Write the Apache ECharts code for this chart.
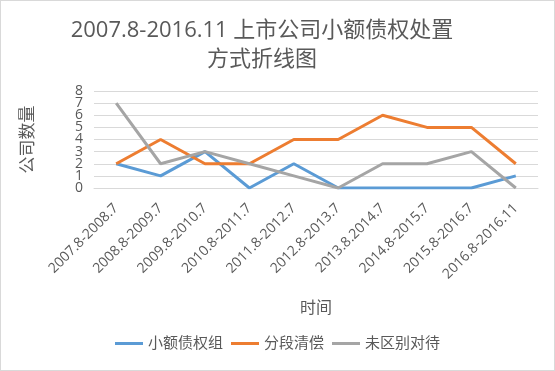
<!DOCTYPE html>
<html>
<head>
<meta charset="utf-8">
<script src="https://cdn.jsdelivr.net/npm/echarts@6/dist/echarts.min.js"></script>
<style>
html,body{margin:0;padding:0;background:#fff;}
#c{width:555px;height:371px;box-sizing:border-box;border:1px solid #d9d9d9;}
</style>
</head>
<body>
<div id="c"></div>
<script>
const categories = ['2007.8-2008.7','2008.8-2009.7','2009.8-2010.7','2010.8-2011.7','2011.8-2012.7','2012.8-2013.7','2013.8.2014.7','2014.8-2015.7','2015.8-2016.7','2016.8-2016.11'];
const seriesNames = ['小额债权组','分段清偿','未区别对待'];
const smallClaims = [2,1,3,0,2,0,0,0,0,1];
const staged = [2,4,2,2,4,4,6,5,5,2];
const undiff = [7,2,3,2,1,0,2,2,3,0];
const yTicks = [0,1,2,3,4,5,6,7,8];

const font = '"Open Sans","Noto Sans CJK SC",sans-serif';
const chart = echarts.init(document.getElementById('c'), null, {renderer:'canvas'});
chart.setOption({
  animation:false,
  color:['#5B9BD5','#ED7D31','#A5A5A5'],
  title:{
    text:'2007.8-2016.11 上市公司小额债权处置\n方式折线图',
    left:256, textAlign:'center', top:10,
    textStyle:{fontFamily:font,fontSize:22,fontWeight:'normal',color:'#595959',lineHeight:29}
  },
  legend:{
    bottom:14, left:'center',
    icon:'rect', itemWidth:28, itemHeight:3, itemGap:8,
    textStyle:{fontFamily:font,fontSize:15,color:'#595959'},
    data:seriesNames
  },
  grid:{left:93,right:16,top:90,bottom:182,containLabel:false,outerBoundsMode:'none'},
  xAxis:{
    type:'category', data:categories, boundaryGap:true,
    axisLine:{lineStyle:{color:'#D9D9D9',width:1}},
    axisTick:{show:false},
    axisLabel:{rotate:45,fontFamily:font,fontSize:14,color:'#595959',margin:18,interval:0,hideOverlap:false},
    name:'时间', nameLocation:'middle', nameGap:112,
    nameTextStyle:{fontFamily:font,fontSize:16,color:'#595959'}
  },
  yAxis:[{
    type:'value', min:yTicks[0], max:yTicks[yTicks.length-1], interval:1,
    axisLine:{show:false}, axisTick:{show:false},
    splitLine:{lineStyle:{color:'#D9D9D9',width:1}},
    axisLabel:{show:false},
    name:'公司数量', nameLocation:'middle', nameRotate:90, nameGap:57,
    nameTextStyle:{fontFamily:font,fontSize:17,color:'#595959'}
  },{
    type:'category', data:yTicks.map(String), boundaryGap:false, position:'left',
    axisLine:{show:false}, axisTick:{show:false}, splitLine:{show:false},
    axisLabel:{fontFamily:font,fontSize:14,color:'#595959',margin:11,interval:0,hideOverlap:false}
  }],
  series:[
    {name:seriesNames[0],type:'line',yAxisIndex:0,data:smallClaims,showSymbol:false,symbol:'none',lineStyle:{width:3}},
    {name:seriesNames[1],type:'line',yAxisIndex:0,data:staged,showSymbol:false,symbol:'none',lineStyle:{width:3}},
    {name:seriesNames[2],type:'line',yAxisIndex:0,data:undiff,showSymbol:false,symbol:'none',lineStyle:{width:3}}
  ]
});
</script>
</body>
</html>
